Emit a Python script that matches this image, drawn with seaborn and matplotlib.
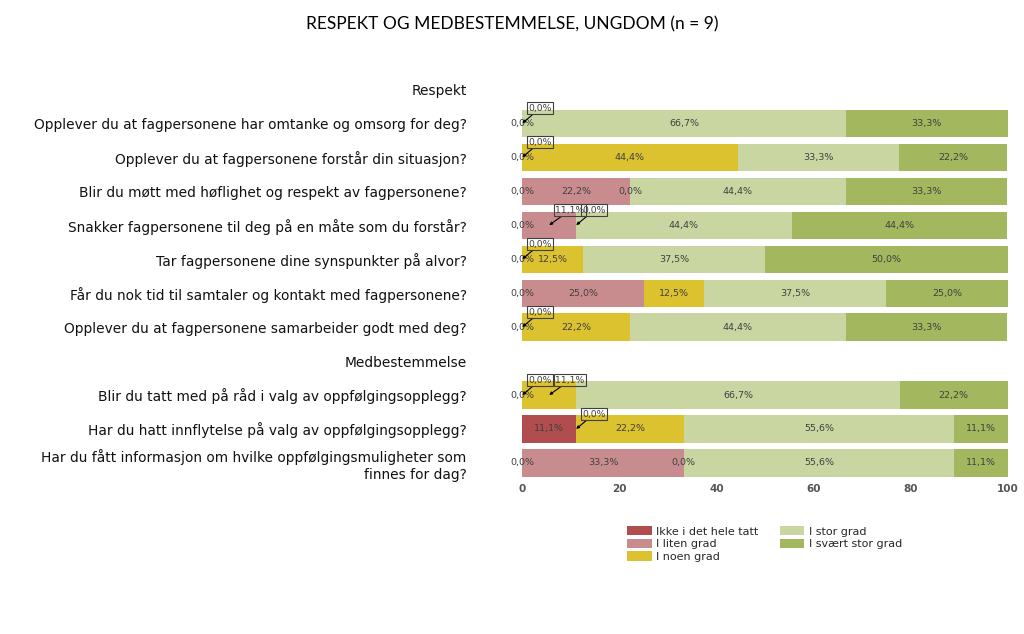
import seaborn as sns
import numpy as np
import matplotlib.pyplot as plt
import pandas as pd
from matplotlib.patches import Patch

title = "RESPEKT OG MEDBESTEMMELSE, UNGDOM (n = 9)"

# y-akse: seksjonsoverskrifter + spørsmål
rows = [
    "Respekt",
    "Opplever du at fagpersonene har omtanke og omsorg for deg?",
    "Opplever du at fagpersonene forstår din situasjon?",
    "Blir du møtt med høflighet og respekt av fagpersonene?",
    "Snakker fagpersonene til deg på en måte som du forstår?",
    "Tar fagpersonene dine synspunkter på alvor?",
    "Får du nok tid til samtaler og kontakt med fagpersonene?",
    "Opplever du at fagpersonene samarbeider godt med deg?",
    "Medbestemmelse",
    "Blir du tatt med på råd i valg av oppfølgingsopplegg?",
    "Har du hatt innflytelse på valg av oppfølgingsopplegg?",
    "Har du fått informasjon om hvilke oppfølgingsmuligheter som\nfinnes for dag?",
]
questions = [r for r in rows if r not in ("Respekt", "Medbestemmelse")]

categories = ["Ikke i det hele tatt", "I liten grad", "I noen grad", "I stor grad", "I svært stor grad"]
colors = ["#B14D4F", "#C98C8E", "#DCC22F", "#C9D6A2", "#A2B75E"]

nan = np.nan
ikke = [0.0, 0.0, 0.0, 0.0, 0.0, 0.0, 0.0, 0.0, 11.1, 0.0]
liten = [0.0, 0.0, 22.2, 11.1, 0.0, 25.0, 0.0, 0.0, 0.0, 33.3]
noen = [nan, 44.4, 0.0, 0.0, 12.5, 12.5, 22.2, 11.1, 22.2, 0.0]
stor = [66.7, 33.3, 44.4, 44.4, 37.5, 37.5, 44.4, 66.7, 55.6, 55.6]
svaert = [33.3, 22.2, 33.3, 44.4, 50.0, 25.0, 33.3, 22.2, 11.1, 11.1]

# etiketter som vises i boks med pil (spørsmål-indeks, kategori-indeks)
callouts = [(0, 1), (1, 1), (3, 1), (3, 2), (4, 1), (6, 1), (7, 1), (7, 2), (8, 1)]

vals = np.array([ikke, liten, noen, stor, svaert], dtype=float).T
cum = np.cumsum(np.nan_to_num(vals), axis=1)

df = pd.DataFrame(cum, columns=categories)
df["question"] = questions
long = df.melt(id_vars="question", var_name="cat", value_name="cum")

sns.set_style("white")
plt.rcParams["font.family"] = ["DejaVu Sans"]

fig = plt.figure(figsize=(10.24, 6.34), dpi=100)
ax = fig.add_axes([0.51, 0.243, 0.474, 0.643])

# stablede søyler: tegn kumulative summer bakfra
for c, col in reversed(list(zip(categories, colors))):
    sns.barplot(data=long[long["cat"] == c], x="cum", y="question", order=rows,
                color=col, width=0.8, errorbar=None, orient="h", ax=ax,
                saturation=1, linewidth=0)

pos = {q: rows.index(q) for q in questions}
fmt = lambda v: f"{v:.1f}%".replace(".", ",")
callset = set(callouts)
for i, q in enumerate(questions):
    y = pos[q]
    for j in range(len(categories)):
        v = vals[i, j]
        if np.isnan(v):
            continue
        xc = cum[i, j] - v / 2
        if (i, j) in callset:
            ax.annotate(fmt(v), xy=(xc, y), xytext=(4.5, 7.5), textcoords="offset points",
                        ha="left", va="bottom", fontsize=6.7, color="#404040",
                        bbox=dict(boxstyle="square,pad=0.15", fc="none", ec="#404040", lw=0.8),
                        arrowprops=dict(arrowstyle="-|>,head_length=0.25,head_width=0.12",
                                        color="black", lw=0.8, shrinkA=0, shrinkB=0))
        else:
            ax.text(xc, y, fmt(v), ha="center", va="center", fontsize=6.8, color="#404040")

ax.set_xlim(0, 100)
ax.set_ylim(len(rows) - 0.5, -0.5)
ax.set_xticks(range(0, 101, 20))
ax.set_xlabel("")
ax.set_ylabel("")
ax.tick_params(axis="y", length=0, pad=40, labelsize=9.9, labelcolor="#111111")
ax.tick_params(axis="x", length=0, pad=3, labelsize=7.5, labelcolor="#555555")
for t in ax.get_xticklabels():
    t.set_fontweight("bold")
sns.despine(ax=ax, left=True, bottom=True)

fig.suptitle(title, x=0.5, y=0.975, fontsize=12.5, family="Lato", color="black")

handles = [Patch(facecolor=col, edgecolor="none") for col in colors]
fig.legend(handles, categories, ncol=2, loc="upper left", bbox_to_anchor=(0.603, 0.186),
           frameon=False, fontsize=8, handlelength=2.2, handleheight=0.9,
           labelspacing=0.2, columnspacing=1.9, handletextpad=0.4)

fig.savefig("out.png", dpi=100)
